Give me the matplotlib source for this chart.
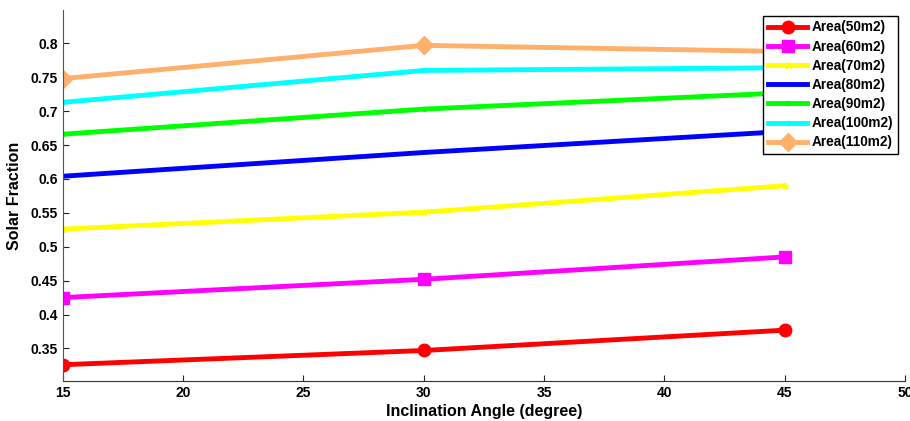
import matplotlib
matplotlib.use("Agg")
import matplotlib.pyplot as plt

plt.rcParams['font.family'] = ['Liberation Sans', 'DejaVu Sans']
plt.rcParams['font.weight'] = 'bold'

angles = [15, 30, 45]
labels = ['Area(50m2)', 'Area(60m2)', 'Area(70m2)', 'Area(80m2)',
          'Area(90m2)', 'Area(100m2)', 'Area(110m2)']
a50 = [0.326, 0.347, 0.377]
a60 = [0.425, 0.452, 0.485]
a70 = [0.526, 0.551, 0.590]
a80 = [0.604, 0.639, 0.670]
a90 = [0.666, 0.703, 0.727]
a100 = [0.713, 0.760, 0.764]
a110 = [0.748, 0.797, 0.788]
series = [a50, a60, a70, a80, a90, a100, a110]
colors = ['#ff0000', '#ff00ff', '#ffff00', '#0000ff', '#00ff00', '#00ffff', '#ffb06a']
markers = ['o', 's', '*', '.', '.', '.', 'D']
msizes = [9, 9, 5, 2, 6, 6, 9]

fig = plt.figure(figsize=(9.10, 4.21), dpi=100)
ax = fig.add_axes([0.069, 0.095, 0.9255, 0.881])
for vals, lab, c, m, ms in zip(series, labels, colors, markers, msizes):
    ax.plot(angles, vals, color=c, lw=3.5, marker=m, markersize=ms,
            markeredgecolor=c, markerfacecolor=c, label=lab)

ax.set_xlim(15, 50)
ax.set_ylim(0.302, 0.849)
ax.set_xticks([15, 20, 25, 30, 35, 40, 45, 50])
ax.set_yticks([0.35, 0.4, 0.45, 0.5, 0.55, 0.6, 0.65, 0.7, 0.75, 0.8])
ax.set_yticklabels(['0.35', '0.4', '0.45', '0.5', '0.55', '0.6', '0.65', '0.7', '0.75', '0.8'])
ax.tick_params(direction='in', labelsize=10, length=4, width=0.8, colors='#222222')
for lab in ax.get_xticklabels() + ax.get_yticklabels():
    lab.set_fontweight('bold')
    lab.set_color('black')
ax.spines['top'].set_visible(False)
ax.spines['right'].set_visible(False)
ax.spines['left'].set_color('#555555')
ax.spines['bottom'].set_color('#333333')
ax.set_xlabel('Inclination Angle (degree)', fontsize=11.5, fontweight='bold', labelpad=3)
ax.set_ylabel('Solar Fraction', fontsize=11.5, fontweight='bold', labelpad=6)

leg = ax.legend(loc='upper right', bbox_to_anchor=(0.9915, 0.985), prop={'weight': 'bold', 'size': 9.8},
                frameon=True, fancybox=False, edgecolor='black', framealpha=1,
                handlelength=2.9, labelspacing=0.38, borderpad=0.35, handletextpad=0.3,
                borderaxespad=0.0)
leg.get_frame().set_linewidth(1.0)

fig.savefig('out.png', dpi=100)
